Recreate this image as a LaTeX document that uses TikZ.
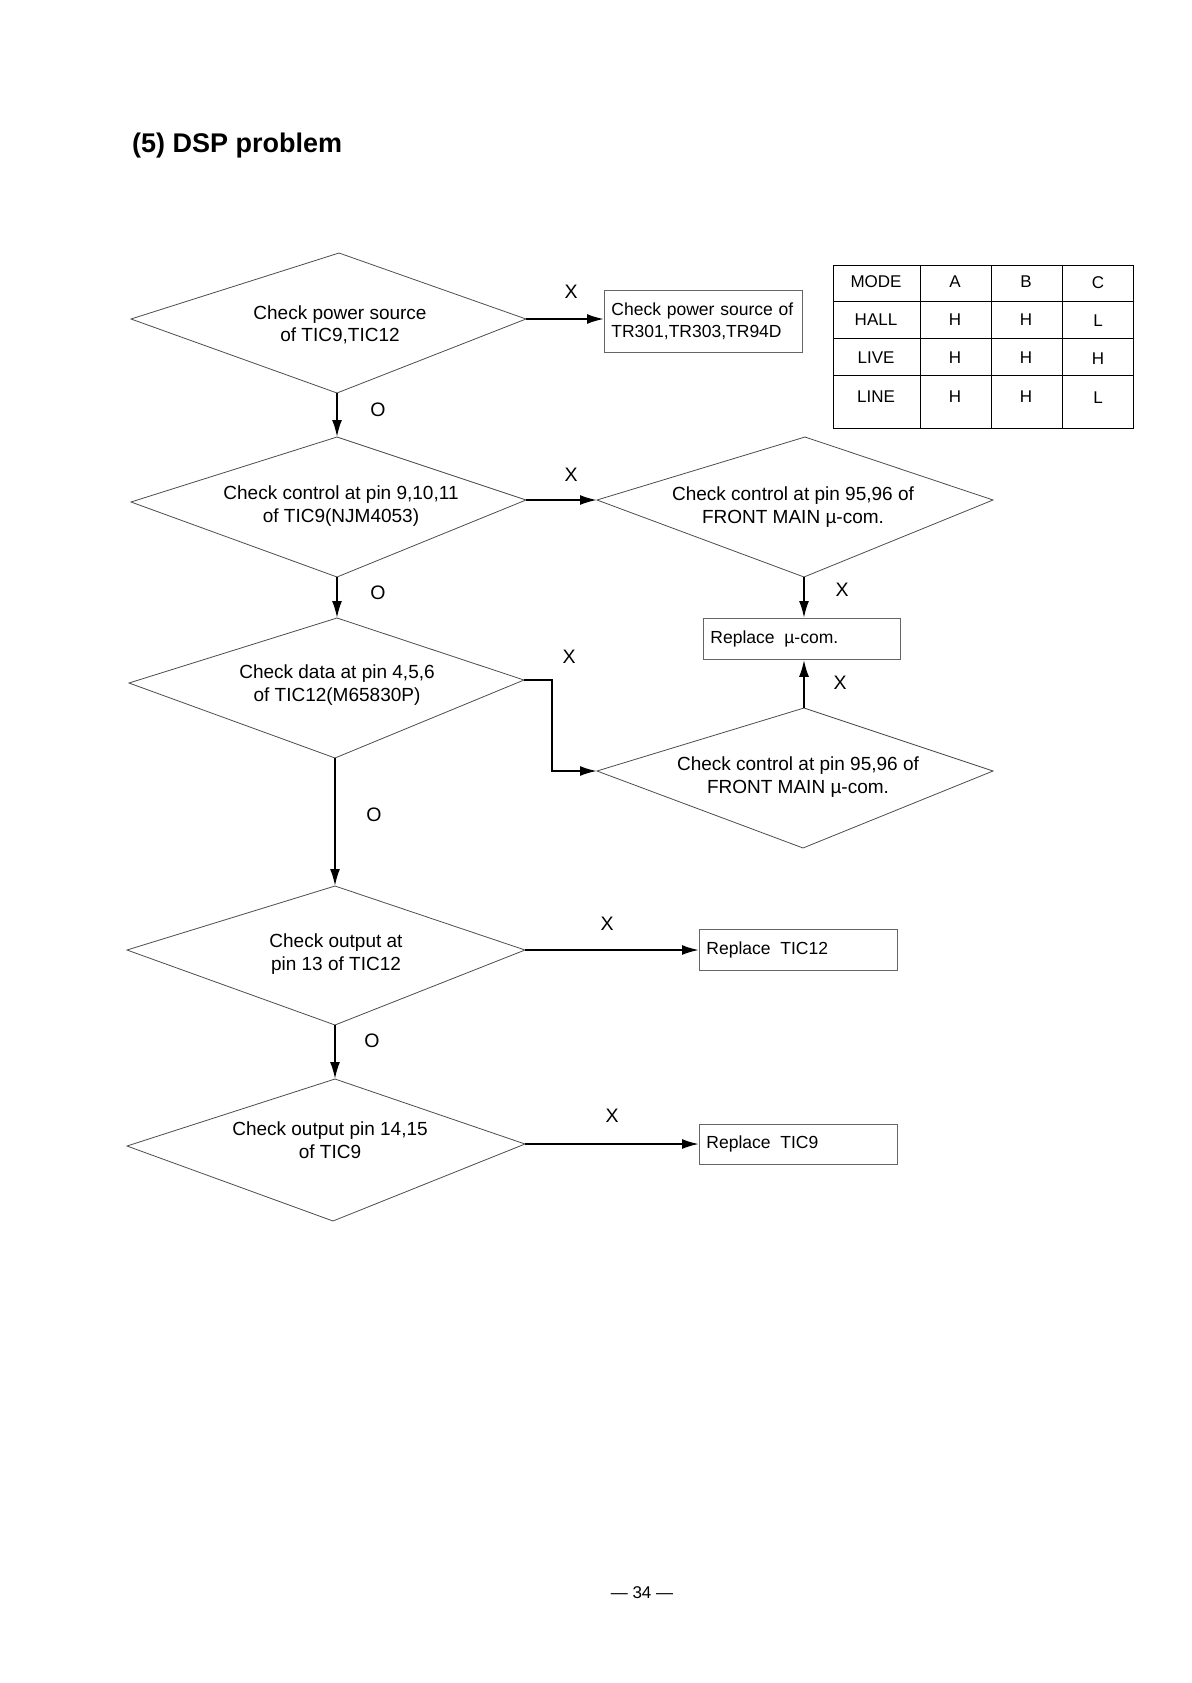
\documentclass[tikz,border=0pt]{standalone}
\usepackage{fontspec}
\setmainfont{Liberation Sans}
\usetikzlibrary{arrows.meta}
\begin{document}
\begin{tikzpicture}[x=1pt,y=-1pt,
  dia/.style={draw=black!70, line width=0.8pt},
  boxnode/.style={draw=black!60, line width=0.8pt, anchor=north west, align=left,
    inner xsep=7pt, inner ysep=0pt, font=\fontsize{17.5}{21.5}\selectfont},
  dtext/.style={align=center, font=\fontsize{19}{22.5}\selectfont, inner sep=0pt},
  lbl/.style={font=\fontsize{19.5}{22}\selectfont, inner sep=0pt},
  arr/.style={-{Latex[length=17pt,width=10pt]}, line width=2pt},
  tbl/.style={font=\fontsize{17}{20}\selectfont, inner sep=0pt},
  tline/.style={draw=black, line width=0.9pt}
]
\useasboundingbox (0,0) rectangle (1191,1683);

% title
\node[anchor=west, inner sep=0pt, font=\fontsize{27}{31}\bfseries] (title) at (132,146) {(5) DSP problem};

% ---------- Diamond 1
\coordinate (d1t) at (339,253); \coordinate (d1r) at (526,319);
\coordinate (d1b) at (337,393); \coordinate (d1l) at (131,319);
\draw[dia] (d1t) -- (d1r) -- (d1b) -- (d1l) -- cycle;
\node[dtext] (d1) at (340,325) {Check power source\\of TIC9,TIC12};

\node[boxnode, text width=184pt, minimum height=62pt] (b1) at (604,290) {Check power source of\\TR301,TR303,TR94D};

% ---------- Diamond 2
\coordinate (d2t) at (337,437); \coordinate (d2r) at (526,500);
\coordinate (d2b) at (337,577); \coordinate (d2l) at (131,502);
\draw[dia] (d2t) -- (d2r) -- (d2b) -- (d2l) -- cycle;
\node[dtext] (d2) at (341,506) {Check control at pin 9,10,11\\of TIC9(NJM4053)};

% ---------- Diamond 3
\coordinate (d3t) at (805,437); \coordinate (d3r) at (993,500);
\coordinate (d3b) at (804,577); \coordinate (d3l) at (597,500);
\draw[dia] (d3t) -- (d3r) -- (d3b) -- (d3l) -- cycle;
\node[dtext] (d3) at (793,507) {Check control at pin 95,96 of\\FRONT MAIN µ-com.};

\node[boxnode, text width=183pt, minimum height=41pt] (b2) at (703,618) {Replace\hspace{4pt} µ-com.};

% ---------- Diamond 4
\coordinate (d4t) at (804,708); \coordinate (d4r) at (993,771);
\coordinate (d4b) at (803,848); \coordinate (d4l) at (597,771);
\draw[dia] (d4t) -- (d4r) -- (d4b) -- (d4l) -- cycle;
\node[dtext] (d4) at (798,777) {Check control at pin 95,96 of\\FRONT MAIN µ-com.};

% ---------- Diamond 5
\coordinate (d5t) at (337,618); \coordinate (d5r) at (524,680);
\coordinate (d5b) at (335,758); \coordinate (d5l) at (129,683);
\draw[dia] (d5t) -- (d5r) -- (d5b) -- (d5l) -- cycle;
\node[dtext] (d5) at (337,685) {Check data at pin 4,5,6\\of TIC12(M65830P)};
\coordinate (bend) at (552,680);

% ---------- Diamond 6
\coordinate (d6t) at (335,886); \coordinate (d6r) at (525,950);
\coordinate (d6b) at (335,1025); \coordinate (d6l) at (127,950);
\draw[dia] (d6t) -- (d6r) -- (d6b) -- (d6l) -- cycle;
\node[dtext] (d6) at (336,954) {Check output at\\pin 13 of TIC12};

\node[boxnode, text width=184pt, minimum height=41pt] (b3) at (699,929) {Replace\hspace{4pt} TIC12};

% ---------- Diamond 7
\coordinate (d7t) at (335,1079); \coordinate (d7r) at (525,1144);
\coordinate (d7b) at (333,1221); \coordinate (d7l) at (127,1146);
\draw[dia] (d7t) -- (d7r) -- (d7b) -- (d7l) -- cycle;
\node[dtext] (d7) at (330,1140) {Check output pin 14,15\\of TIC9};

\node[boxnode, text width=184pt, minimum height=40pt] (b4) at (699,1124) {Replace\hspace{4pt} TIC9};

% ---------- connectors
\draw[arr] (d1r) -- (d1r -| b1.west);
\draw[arr] (d1b) -- (d2t);
\draw[arr] (d2r) -- (d3l);
\draw[arr] (d3b) -- (b2.north -| d3b);
\draw[arr] (d4t) -- (b2.south -| d4t);
\draw[arr] (d2b) -- (d5t);
\draw[arr] (d5r) -- (bend) |- (d4l);
\draw[arr] (d5b) -- (d6t);
\draw[arr] (d6r) -- (d6r -| b3.west);
\draw[arr] (d6b) -- (d7t);
\draw[arr] (d7r) -- (d7r -| b4.west);

% ---------- labels
\node[lbl] (x1) at (571,292) {X};
\node[lbl] (o1) at (378,410) {O};
\node[lbl] (x2) at (571,475) {X};
\node[lbl] (x3) at (842,590) {X};
\node[lbl] (o2) at (378,593) {O};
\node[lbl] (x4) at (569,657) {X};
\node[lbl] (x5) at (840,683) {X};
\node[lbl] (o3) at (374,815) {O};
\node[lbl] (x6) at (607,924) {X};
\node[lbl] (o4) at (372,1041) {O};
\node[lbl] (x7) at (612,1116) {X};

% ---------- table
\draw[tline] (833,265) rectangle (1133,428);
\draw[tline] (920,265) -- (920,428);
\draw[tline] (991,265) -- (991,428);
\draw[tline] (1062,265) -- (1062,428);
\draw[tline] (833,301) -- (1133,301);
\draw[tline] (833,338) -- (1133,338);
\draw[tline] (833,375) -- (1133,375);
\node[tbl] (tm) at (876,282) {MODE};
\node[tbl] (ta) at (955,282) {A};
\node[tbl] (tb) at (1026,282) {B};
\node[tbl] (tc) at (1098,283) {C};
\node[tbl] (th) at (876,320) {HALL};
\node[tbl] (th1) at (955,320) {H};
\node[tbl] (th2) at (1026,320) {H};
\node[tbl] (th3) at (1098,321) {L};
\node[tbl] (tv) at (876,358) {LIVE};
\node[tbl] (tv1) at (955,358) {H};
\node[tbl] (tv2) at (1026,358) {H};
\node[tbl] (tv3) at (1098,359) {H};
\node[tbl] (tl) at (876,397) {LINE};
\node[tbl] (tl1) at (955,397) {H};
\node[tbl] (tl2) at (1026,397) {H};
\node[tbl] (tl3) at (1098,398) {L};

% page number
\node[inner sep=0pt, font=\fontsize{17}{20}\selectfont] (page) at (642,1593) {— 34 —};
\end{tikzpicture}
\end{document}
